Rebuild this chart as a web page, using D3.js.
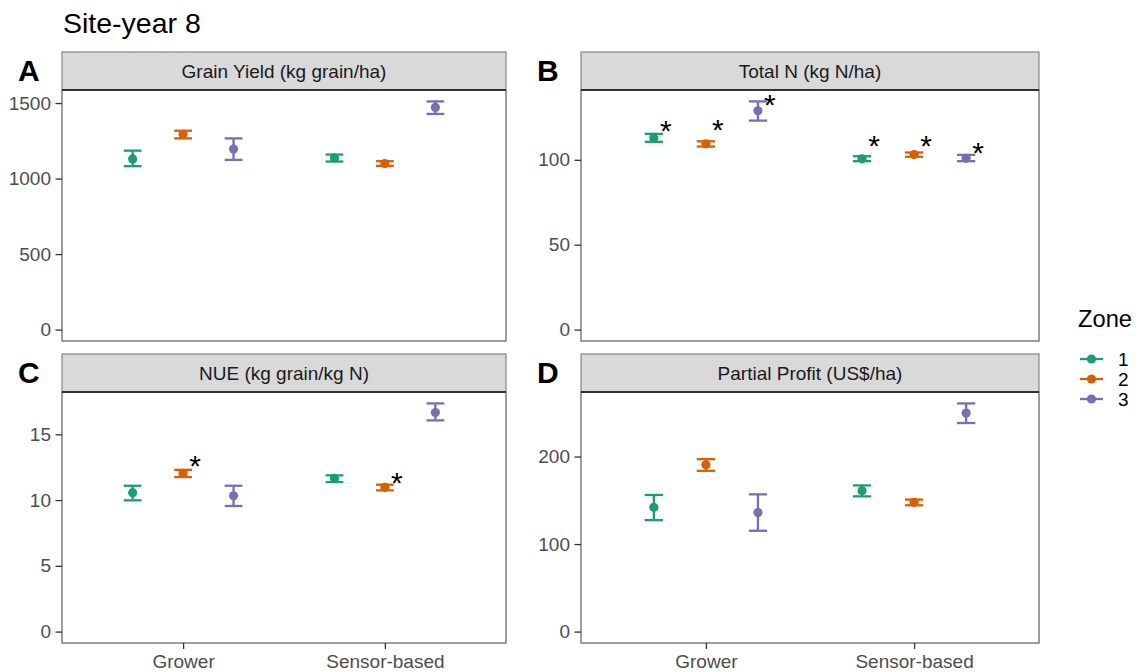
<!DOCTYPE html>
<html lang="en">
<head>
<meta charset="UTF-8">
<title>Site-year 8</title>
<script src="https://d3js.org/d3.v7.min.js"></script>
<style>
    body { margin: 0; background: #fff; }
    svg text { font-family: "Liberation Sans", Arial, sans-serif; }
</style>
</head>
<body>
<div id="chart"></div>
<script>
    // data (order: Grower z1,z2,z3, Sensor-based z1,z2,z3)
    const categories = ["Grower", "Sensor-based"];
    const zones = ["1", "2", "3"];
    const zoneColors = ["#1B9E77", "#D95F02", "#7570B3"];

    const yieldMean = [1130, 1293, 1196, 1137, 1100, 1471];
    const yieldLow = [1082, 1266, 1124, 1113, 1084, 1428];
    const yieldHigh = [1185, 1317, 1266, 1159, 1115, 1511];

    const totalNMean = [112.9, 109.4, 128.9, 100.6, 103.1, 100.9];
    const totalNLow = [110.6, 107.8, 123.1, 99.2, 101.8, 99.2];
    const totalNHigh = [115.3, 110.9, 134.4, 102.1, 104.3, 102.9];
    const totalNStars = [121.5, 121.7, 136.4, 112.3, 112.7, 108.4];

    const nueMean = [10.56, 12.03, 10.33, 11.65, 10.97, 16.66];
    const nueLow = [9.98, 11.75, 9.55, 11.37, 10.74, 16.06];
    const nueHigh = [11.09, 12.30, 11.09, 11.88, 11.17, 17.35];
    const nueStars = [null, 13.11, null, null, 11.82, null];

    const profitMean = [142.0, 190.6, 136.0, 161.0, 147.7, 249.7];
    const profitLow = [127.3, 183.7, 115.2, 154.5, 144.3, 238.3];
    const profitHigh = [156.1, 197.0, 156.8, 167.0, 150.8, 260.7];

    const yieldTicks = [0, 500, 1000, 1500];
    const totalNTicks = [0, 50, 100];
    const nueTicks = [0, 5, 10, 15];
    const profitTicks = [0, 100, 200];

    const panels = [
        { tag: "A", title: "Grain Yield (kg grain/ha)", mean: yieldMean, low: yieldLow, high: yieldHigh, stars: null, ticks: yieldTicks,
          x0: 62, x1: 506, top: 52, stripH: 38, y1: 341, xaxis: false },
        { tag: "B", title: "Total N (kg N/ha)", mean: totalNMean, low: totalNLow, high: totalNHigh, stars: totalNStars, ticks: totalNTicks,
          x0: 581, x1: 1039, top: 52, stripH: 38, y1: 341, xaxis: false },
        { tag: "C", title: "NUE (kg grain/kg N)", mean: nueMean, low: nueLow, high: nueHigh, stars: nueStars, ticks: nueTicks,
          x0: 62, x1: 506, top: 354, stripH: 38, y1: 643, xaxis: true },
        { tag: "D", title: "Partial Profit (US$/ha)", mean: profitMean, low: profitLow, high: profitHigh, stars: null, ticks: profitTicks,
          x0: 581, x1: 1039, top: 354, stripH: 38, y1: 643, xaxis: true }
    ];

    const width = 1137, height = 672;
    const svg = d3.select("#chart").append("svg")
        .attr("width", width)
        .attr("height", height);

    svg.append("text")
        .attr("x", 63).attr("y", 33)
        .attr("font-size", 28.5)
        .attr("fill", "#000")
        .text("Site-year 8");

    const color = d3.scaleOrdinal().domain(zones).range(zoneColors);

    panels.forEach(p => {
        const plotTop = p.top + p.stripH;
        const g = svg.append("g");

        const x = d3.scalePoint().domain(categories).range([p.x0, p.x1]).padding(0.6);
        const step = x.step();
        const ymax = d3.max(p.high);
        const y = d3.scaleLinear().domain([-0.05 * ymax, 1.05 * ymax]).range([p.y1, plotTop]);

        const rows = p.mean.map((m, i) => ({
            cat: categories[Math.floor(i / 3)],
            zone: zones[i % 3],
            k: i % 3,
            mean: m,
            low: p.low[i],
            high: p.high[i],
            star: p.stars ? p.stars[i] : null
        }));
        const px = d => x(d.cat) + (d.k - 1) * 0.25 * step;
        const cap = 0.044 * step;

        // panel background + border
        g.append("rect")
            .attr("x", p.x0).attr("y", plotTop)
            .attr("width", p.x1 - p.x0).attr("height", p.y1 - plotTop)
            .attr("fill", "#fff").attr("stroke", "#6b6b6b").attr("stroke-width", 1.3);

        // strip
        g.append("rect")
            .attr("x", p.x0).attr("y", p.top)
            .attr("width", p.x1 - p.x0).attr("height", p.stripH)
            .attr("fill", "#D9D9D9").attr("stroke", "#858585").attr("stroke-width", 1.2);
        g.append("line")
            .attr("x1", p.x0).attr("x2", p.x1)
            .attr("y1", plotTop).attr("y2", plotTop)
            .attr("stroke", "#333").attr("stroke-width", 2);
        g.append("text")
            .attr("x", (p.x0 + p.x1) / 2).attr("y", p.top + p.stripH / 2 + 6.8)
            .attr("text-anchor", "middle")
            .attr("font-size", 19).attr("fill", "#1A1A1A")
            .text(p.title);

        // panel tag
        g.append("text")
            .attr("x", p.x0 - 44).attr("y", p.top + 29)
            .attr("font-size", 30).attr("font-weight", "bold").attr("fill", "#000")
            .text(p.tag);

        // y axis
        const yAxis = g.append("g")
            .attr("transform", `translate(${p.x0},0)`)
            .call(d3.axisLeft(y).tickValues(p.ticks).tickFormat(d3.format("d")).tickSize(6.5).tickPadding(4.5));
        yAxis.select(".domain").remove();
        yAxis.selectAll(".tick line").attr("stroke", "#333").attr("stroke-width", 1.3);
        yAxis.selectAll(".tick text").attr("fill", "#4D4D4D").attr("font-size", 19)
            .attr("font-family", "Liberation Sans, Arial, sans-serif");

        // x axis (bottom row only)
        if (p.xaxis) {
            const xAxis = g.append("g")
                .attr("transform", `translate(0,${p.y1})`)
                .call(d3.axisBottom(x).tickSize(6).tickPadding(6));
            xAxis.select(".domain").remove();
            xAxis.selectAll(".tick line").attr("stroke", "#333").attr("stroke-width", 1.3);
            xAxis.selectAll(".tick text").attr("fill", "#4D4D4D").attr("font-size", 19)
                .attr("font-family", "Liberation Sans, Arial, sans-serif");
        }

        // error bars
        const eb = g.selectAll(".eb").data(rows).enter().append("g")
            .attr("stroke", d => color(d.zone)).attr("stroke-width", 2.3);
        eb.append("line")
            .attr("x1", px).attr("x2", px)
            .attr("y1", d => y(d.low)).attr("y2", d => y(d.high));
        eb.append("line")
            .attr("x1", d => px(d) - cap).attr("x2", d => px(d) + cap)
            .attr("y1", d => y(d.low)).attr("y2", d => y(d.low));
        eb.append("line")
            .attr("x1", d => px(d) - cap).attr("x2", d => px(d) + cap)
            .attr("y1", d => y(d.high)).attr("y2", d => y(d.high));

        g.selectAll(".pt").data(rows).enter().append("circle")
            .attr("cx", px).attr("cy", d => y(d.mean))
            .attr("r", 4.6).attr("fill", d => color(d.zone));

        // significance stars
        g.selectAll(".star").data(rows.filter(d => d.star != null)).enter().append("text")
            .attr("x", d => px(d) + 12)
            .attr("y", d => y(d.star) + 0.575 * 30)
            .attr("text-anchor", "middle")
            .attr("font-size", 30).attr("fill", "#000")
            .text("*");
    });

    // legend
    const legend = svg.append("g");
    legend.append("text")
        .attr("x", 1078).attr("y", 327)
        .attr("font-size", 23.7).attr("fill", "#000")
        .text("Zone");
    zones.forEach((z, i) => {
        const ly = 359 + i * 20;
        legend.append("line")
            .attr("x1", 1080).attr("x2", 1103).attr("y1", ly).attr("y2", ly)
            .attr("stroke", color(z)).attr("stroke-width", 2.3);
        legend.append("circle")
            .attr("cx", 1091.5).attr("cy", ly).attr("r", 4.6).attr("fill", color(z));
        legend.append("text")
            .attr("x", 1118).attr("y", ly + 6.8)
            .attr("font-size", 19).attr("fill", "#000")
            .text(z);
    });
</script>
</body>
</html>
